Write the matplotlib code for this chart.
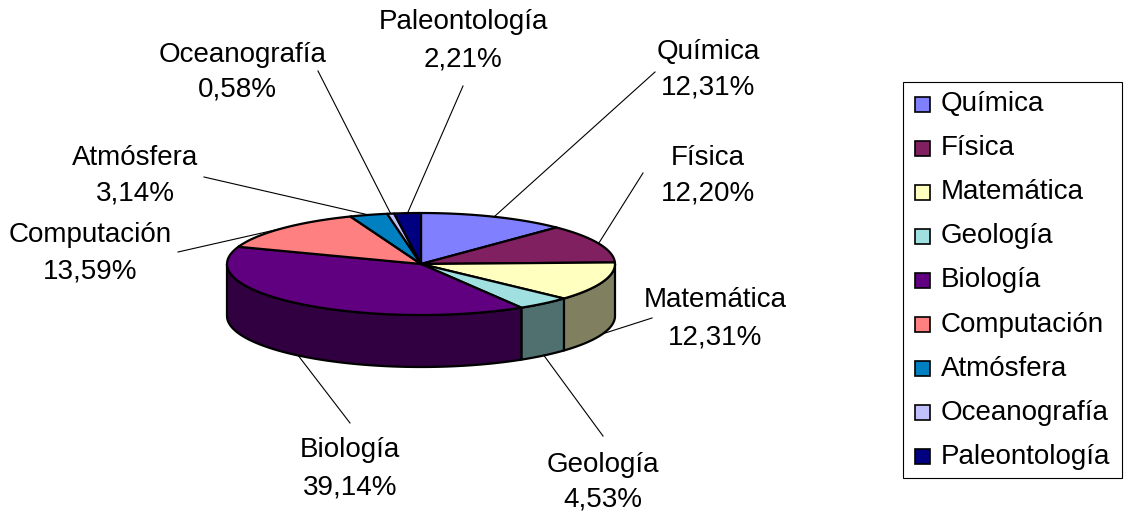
import numpy as np
import matplotlib.pyplot as plt
from matplotlib.patches import Polygon, Rectangle
from matplotlib.colors import to_rgb

plt.rcParams['font.family'] = ['Liberation Sans', 'DejaVu Sans']

categories = ['Química', 'Física', 'Matemática', 'Geología', 'Biología',
              'Computación', 'Atmósfera', 'Oceanografía', 'Paleontología']
percentages = [12.31, 12.20, 12.31, 4.53, 39.14, 13.59, 3.14, 0.58, 2.21]
colors = ['#8080FF', '#802060', '#FFFFC0', '#A0E0E0', '#600080',
          '#FF8080', '#0080C0', '#C0C0FF', '#000080']

# label placement (pixel coords): name line centre, pct line centre, leader start
label_pos = {
    'Química':       ((708, 52), (708, 88), (655, 72)),
    'Física':        ((708, 158), (708, 194), (643, 173)),
    'Matemática':    ((715, 300), (715, 337), (652, 318)),
    'Geología':      ((603, 465), (603, 500), (603, 436)),
    'Biología':      ((350, 450), (350, 488), (350, 423)),
    'Computación':   ((90, 235), (90, 272), (178, 252)),
    'Atmósfera':     ((135, 158), (135, 194), (204, 177)),
    'Oceanografía':  ((243, 55), (237, 90), (318, 71)),
    'Paleontología': ((463, 22), (463, 60), (463, 86)),
}

W, H = 1124, 515
cx, cy, rx, ry, depth = 421, 264, 194, 51, 52
FS = 20

fig = plt.figure(figsize=(W / 100, H / 100), dpi=100)
ax = fig.add_axes([0, 0, 1, 1])
ax.set_xlim(0, W)
ax.set_ylim(H, 0)
ax.axis('off')


def arc(a0, a1, dy=0, n=80):
    t = np.radians(np.linspace(a0, a1, n))
    return np.column_stack([cx + rx * np.sin(t), cy - ry * np.cos(t) + dy])


total = sum(percentages)
bounds = np.concatenate([[0], np.cumsum(percentages) / total * 360])

# sides (front half only)
for i, c in enumerate(colors):
    s, e = max(bounds[i], 90), min(bounds[i + 1], 270)
    if s < e:
        side = np.vstack([arc(s, e), arc(e, s, depth)])
        dark = tuple(v * 0.5 for v in to_rgb(c))
        ax.add_patch(Polygon(side, closed=True, facecolor=dark,
                             edgecolor='black', lw=1.6, joinstyle='round'))

# top faces
for i, c in enumerate(colors):
    top = np.vstack([[cx, cy], arc(bounds[i], bounds[i + 1])])
    ax.add_patch(Polygon(top, closed=True, facecolor=c,
                         edgecolor='black', lw=1.6, joinstyle='round'))

# labels and leader lines
for i, name in enumerate(categories):
    mid = (bounds[i] + bounds[i + 1]) / 2
    t = np.radians(mid)
    px, py = cx + rx * np.sin(t), cy - ry * np.cos(t)
    if 90 < mid < 270:
        py += depth
    (nx, ny), (vx, vy), (lx, ly) = label_pos[name]
    ax.plot([lx, px], [ly, py], color='black', lw=0.8)
    ax.text(nx, ny, name, ha='center', va='center', fontsize=FS)
    ax.text(vx, vy, f'{percentages[i]:.2f}'.replace('.', ',') + '%',
            ha='center', va='center', fontsize=FS)

# legend
ax.add_patch(Rectangle((903, 82), 219, 396, facecolor='white',
                       edgecolor='black', lw=0.8))
for i, name in enumerate(categories):
    yc = 104 + i * 44.1
    ax.add_patch(Rectangle((915, yc - 7.5), 15, 15, facecolor=colors[i],
                           edgecolor='black', lw=1.2))
    ax.text(941, yc, name, ha='left', va='center', fontsize=FS)

fig.savefig('out.png', dpi=100)
